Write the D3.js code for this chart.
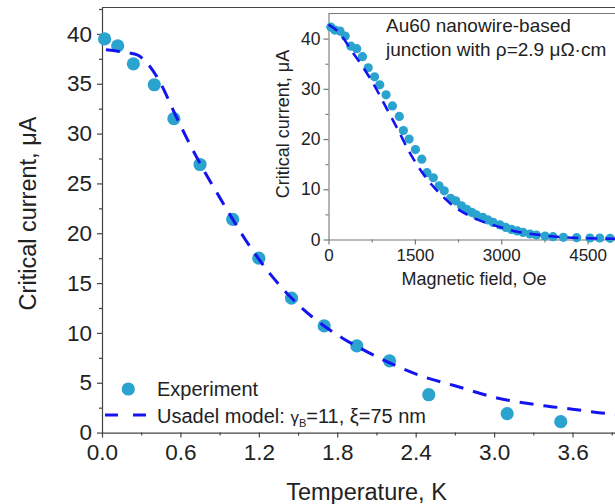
<!DOCTYPE html>
<html>
<head>
<meta charset="utf-8">
<script src="https://cdn.jsdelivr.net/npm/d3@7"></script>
<style>
  html, body { margin: 0; padding: 0; background: #fff; }
  svg { display: block; font-family: "Liberation Sans", Arial, sans-serif; }
</style>
</head>
<body>
<svg id="chart" width="615" height="504"></svg>
<script>
// Critical current vs temperature (measured points)
const tempK = [0.02, 0.12, 0.24, 0.40, 0.55, 0.75, 1.00, 1.20, 1.45, 1.70, 1.95, 2.20, 2.50, 3.10, 3.51];
const icTemp = [39.5, 38.8, 37.0, 34.9, 31.5, 26.9, 21.4, 17.5, 13.5, 10.7, 8.7, 7.2, 3.8, 1.9, 1.1];

// Usadel model curve vs temperature
const modelT = [0.03, 0.1, 0.2, 0.27, 0.35, 0.45, 0.55, 0.65, 0.75, 0.9, 1.0, 1.1, 1.2, 1.3, 1.45, 1.6, 1.7, 1.85, 2.0, 2.2, 2.45, 2.7, 3.0, 3.35, 3.6, 3.8, 4.0];
const modelIcT = [38.4, 38.3, 38.1, 37.9, 37.0, 35.0, 32.2, 29.5, 27.0, 23.6, 21.4, 19.3, 17.4, 15.7, 13.5, 11.7, 10.7, 9.4, 8.3, 7.0, 5.65, 4.7, 3.55, 2.75, 2.35, 2.0, 1.8];

// Inset: critical current vs magnetic field
const fieldOe = [40, 110, 200, 290, 390, 490, 590, 690, 800, 890, 1000, 1110, 1230, 1300, 1400, 1510, 1620, 1710, 1820, 1920, 2010, 2120, 2210, 2310, 2400, 2490, 2570, 2680, 2770, 2860, 2980, 3080, 3180, 3280, 3380, 3500, 3610, 3760, 3900, 4080, 4310, 4540, 4710, 4890];
const icField = [42.3, 41.7, 41.5, 40.5, 38.5, 38.0, 36.4, 34.2, 32.4, 30.8, 28.8, 26.6, 24.5, 21.7, 20.0, 17.9, 16.0, 13.3, 12.3, 10.7, 9.7, 8.2, 7.7, 6.7, 6.0, 5.4, 4.9, 4.4, 3.9, 3.4, 2.9, 2.4, 2.0, 1.7, 1.4, 1.1, 0.9, 0.7, 0.56, 0.44, 0.36, 0.3, 0.3, 0.24];

const modelOe = [0, 200, 400, 600, 800, 1000, 1200, 1400, 1600, 1800, 2000, 2200, 2400, 2600, 2800, 3000, 3300, 3600, 4000, 4500, 5000];
const modelIcH = [42.8, 41.0, 37.6, 34.3, 30.6, 26.3, 22.0, 17.5, 13.8, 10.8, 8.4, 6.4, 5.0, 3.9, 3.1, 2.4, 1.5, 1.0, 0.5, 0.25, 0.15];

// Tick values
const mainXTicks = [0.0, 0.6, 1.2, 1.8, 2.4, 3.0, 3.6];
const mainYTicks = [0, 5, 10, 15, 20, 25, 30, 35, 40];
const insetXTicks = [0, 1500, 3000, 4500];
const insetYTicks = [0, 10, 20, 30, 40];

const pointColor = "#2aa3cf";
const lineColor = "#1414f0";
const axisColor = "#444";
const textColor = "#222";

const svg = d3.select("#chart");

// ---------- main panel ----------
const x = d3.scaleLinear().domain([0, 4.0]).range([102, 624.8]);
const y = d3.scaleLinear().domain([0, 42.65]).range([432.6, 7.5]);

// top frame line
svg.append("line")
  .attr("x1", x(0)).attr("x2", x(4.0))
  .attr("y1", y.range()[1]).attr("y2", y.range()[1])
  .attr("stroke", axisColor).attr("stroke-width", 1.2);

function styleAxis(g, color, fontSize) {
  g.select(".domain").attr("stroke", color).attr("stroke-width", 1.2);
  g.selectAll(".tick line").attr("stroke", color).attr("stroke-width", 1.2);
  g.selectAll(".tick text").attr("fill", textColor)
    .style("font-size", fontSize + "px")
    .style("font-family", '"Liberation Sans", Arial, sans-serif');
}

// minor ticks
const xMinor = d3.range(0.3, 4.0, 0.6);
const yMinor = d3.range(2.5, 42.6, 5);

svg.append("g").attr("transform", `translate(0,${y(0)})`)
  .call(d3.axisBottom(x).tickValues(xMinor).tickSize(3).tickFormat(""))
  .call(g => { g.select(".domain").remove(); g.selectAll("line").attr("stroke", axisColor).attr("stroke-width", 1.2); });
svg.append("g").attr("transform", `translate(${x(0)},0)`)
  .call(d3.axisLeft(y).tickValues(yMinor).tickSize(3).tickFormat(""))
  .call(g => { g.select(".domain").remove(); g.selectAll("line").attr("stroke", axisColor).attr("stroke-width", 1.2); });

const gx = svg.append("g").attr("transform", `translate(0,${y(0)})`)
  .call(d3.axisBottom(x).tickValues(mainXTicks).tickSize(5).tickSizeOuter(0).tickPadding(6).tickFormat(d3.format(".1f")));
styleAxis(gx, axisColor, 22.5);

const gy = svg.append("g").attr("transform", `translate(${x(0)},0)`)
  .call(d3.axisLeft(y).tickValues(mainYTicks).tickSize(5).tickSizeOuter(0).tickPadding(5).tickFormat(d3.format("d")));
styleAxis(gy, axisColor, 22.5);

// axis titles
svg.append("text")
  .attr("x", 366.5).attr("y", 500)
  .attr("text-anchor", "middle").attr("fill", textColor)
  .style("font-size", "23.5px")
  .text("Temperature, K");

svg.append("text")
  .attr("transform", "translate(36,213.5) rotate(-90)")
  .attr("text-anchor", "middle").attr("fill", textColor)
  .style("font-size", "23.5px")
  .text("Critical current, μA");

// experiment points
svg.append("g").selectAll("circle")
  .data(tempK.map((t, i) => [t, icTemp[i]]))
  .join("circle")
  .attr("cx", d => x(d[0])).attr("cy", d => y(d[1]))
  .attr("r", 6.6).attr("fill", pointColor);

// model curve
const lineT = d3.line().x(d => x(d[0])).y(d => y(d[1])).curve(d3.curveMonotoneX);
svg.append("path")
  .datum(modelT.map((t, i) => [t, modelIcT[i]]))
  .attr("d", lineT)
  .attr("fill", "none").attr("stroke", lineColor)
  .attr("stroke-width", 3).attr("stroke-dasharray", "14,10");

// legend
const legend = svg.append("g");
legend.append("circle").attr("cx", 128.3).attr("cy", 389).attr("r", 6.6).attr("fill", pointColor);
legend.append("text").attr("x", 157).attr("y", 396).attr("fill", textColor)
  .style("font-size", "20px").text("Experiment");
legend.append("line").attr("x1", 105).attr("x2", 146).attr("y1", 415).attr("y2", 415)
  .attr("stroke", lineColor).attr("stroke-width", 3).attr("stroke-dasharray", "13,15");
const lt = legend.append("text").attr("x", 157).attr("y", 422.5).attr("fill", textColor)
  .style("font-size", "20px");
lt.append("tspan").text("Usadel model: ");
lt.append("tspan").style("font-size", "17px").text("γ");
lt.append("tspan").style("font-size", "11px").attr("dy", 4).text("B");
lt.append("tspan").attr("dy", -4).text("=11, ξ=75 nm");

// ---------- inset panel ----------
const xi = d3.scaleLinear().domain([0, 5000]).range([328.5, 616.4]);
const yi = d3.scaleLinear().domain([0, 45]).range([239.5, 13.5]);
const insetColor = "#777";

svg.append("rect")
  .attr("x", xi(0)).attr("y", yi(45))
  .attr("width", xi(5000) - xi(0)).attr("height", yi(0) - yi(45))
  .attr("fill", "#fff");

svg.append("line")
  .attr("x1", xi(0)).attr("x2", xi(5000))
  .attr("y1", yi(45)).attr("y2", yi(45))
  .attr("stroke", insetColor).attr("stroke-width", 1.1);

svg.append("g").attr("transform", `translate(0,${yi(0)})`)
  .call(d3.axisBottom(xi).tickValues([750, 2250, 3750]).tickSize(3).tickFormat(""))
  .call(g => { g.select(".domain").remove(); g.selectAll("line").attr("stroke", insetColor).attr("stroke-width", 1.1); });
svg.append("g").attr("transform", `translate(${xi(0)},0)`)
  .call(d3.axisLeft(yi).tickValues([5, 15, 25, 35]).tickSize(3).tickFormat(""))
  .call(g => { g.select(".domain").remove(); g.selectAll("line").attr("stroke", insetColor).attr("stroke-width", 1.1); });

const gxi = svg.append("g").attr("transform", `translate(0,${yi(0)})`)
  .call(d3.axisBottom(xi).tickValues(insetXTicks).tickSize(5).tickSizeOuter(0).tickPadding(4).tickFormat(d3.format("d")));
styleAxis(gxi, insetColor, 17);
gxi.select(".domain").attr("stroke-width", 1.1);

const gyi = svg.append("g").attr("transform", `translate(${xi(0)},0)`)
  .call(d3.axisLeft(yi).tickValues(insetYTicks).tickSize(5).tickSizeOuter(0).tickPadding(3).tickFormat(d3.format("d")));
styleAxis(gyi, insetColor, 17.5);
gyi.select(".domain").attr("stroke-width", 1.1);

svg.append("text")
  .attr("x", 474).attr("y", 285)
  .attr("text-anchor", "middle").attr("fill", textColor)
  .style("font-size", "18px")
  .text("Magnetic field, Oe");

svg.append("text")
  .attr("transform", "translate(288.5,124) rotate(-90)")
  .attr("text-anchor", "middle").attr("fill", textColor)
  .style("font-size", "18px")
  .text("Critical current, μA");

svg.append("text").attr("x", 386).attr("y", 32).attr("fill", textColor)
  .style("font-size", "19px").text("Au60 nanowire-based");
svg.append("text").attr("x", 386).attr("y", 56).attr("fill", textColor)
  .style("font-size", "19px").text("junction with ρ=2.9 μΩ·cm");

svg.append("g").selectAll("circle")
  .data(fieldOe.map((h, i) => [h, icField[i]]))
  .join("circle")
  .attr("cx", d => xi(d[0])).attr("cy", d => yi(d[1]))
  .attr("r", 4.6).attr("fill", pointColor);

const lineH = d3.line().x(d => xi(d[0])).y(d => yi(d[1])).curve(d3.curveMonotoneX);
svg.append("path")
  .datum(modelOe.map((h, i) => [h, modelIcH[i]]))
  .attr("d", lineH)
  .attr("fill", "none").attr("stroke", lineColor)
  .attr("stroke-width", 2.6).attr("stroke-dasharray", "11,8");
</script>
</body>
</html>
